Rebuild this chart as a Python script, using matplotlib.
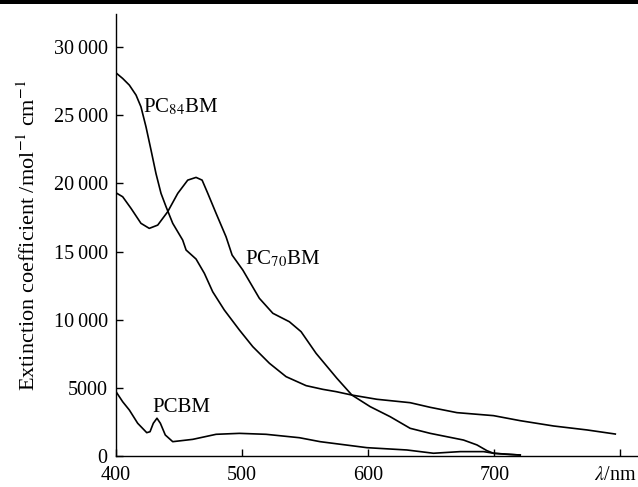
import matplotlib
matplotlib.use("Agg")
import matplotlib.pyplot as plt
from matplotlib.patches import Rectangle
from matplotlib.transforms import ScaledTranslation

plt.rcParams['font.family'] = ['Liberation Serif', 'DejaVu Serif']
plt.rcParams['mathtext.fontset'] = 'stix'

# PC84BM absorption (nm, mol^-1 cm^-1)
wl_84 = [400, 405.3, 410.6, 415.9, 419.8, 423.8, 427.8, 431.7, 435.7, 439.7, 445, 452.9,
         455.6, 463.5, 470.1, 476.7, 485.9, 497.9, 508.5, 521.7, 534.9, 550.8, 564, 574.6,
         587.1, 606.9, 633.3, 649.2, 670.4, 699.4, 720.6, 747.1, 773.6, 796]
ec_84 = [28110, 27700, 27210, 26480, 25620, 24150, 22440, 20730, 19270, 18290, 17070,
         15840, 15110, 14450, 13400, 12050, 10710, 9240, 8020, 6800, 5820, 5160, 4890,
         4720, 4470, 4160, 3910, 3570, 3180, 2960, 2590, 2200, 1910, 1610]

# PC70BM
wl_70 = [400, 405.3, 411.9, 419.8, 426.4, 433.1, 441, 449, 456.9, 463.5, 468.3, 472.8,
         479.4, 487.3, 492.1, 500.6, 513.7, 524.4, 537.5, 546.8, 558.7, 575.2, 587.1,
         601.6, 617.5, 633.3, 649.2, 675.6, 686.3, 694.2, 699.4, 710.1, 720.6]
ec_70 = [19310, 19020, 18170, 17070, 16700, 16940, 17920, 19270, 20240, 20440, 20240,
         19270, 17800, 16080, 14740, 13640, 11570, 10470, 9850, 9120, 7530, 5700, 4470,
         3620, 2880, 2030, 1660, 1170, 810, 390, 200, 120, 70]

# PCBM
wl_60 = [400, 405.3, 410.6, 417.2, 424.4, 427, 429.6, 432.5, 435.2, 439.1, 445, 460.9,
         479.4, 497.9, 519, 545.5, 561.9, 599, 630.7, 651.8, 673, 691.5, 699.4, 720.6]
ec_60 = [4720, 3980, 3370, 2400, 1710, 1780, 2400, 2770, 2400, 1540, 1050, 1220, 1590,
         1660, 1590, 1340, 1050, 610, 440, 200, 320, 320, 200, 70]

x_ticks = [400, 500, 600, 700, 800]
x_labels = ['400', '500', '600', '700', r'$\lambda$/nm']
y_ticks = [0, 5000, 10000, 15000, 20000, 25000, 30000]
y_labels = ['0', '5000', '10\u2009000', '15\u2009000', '20\u2009000', '25\u2009000', '30\u2009000']

fig = plt.figure(figsize=(6.38, 4.87), dpi=100)
ax = fig.add_axes([0.1818, 0.0637, 0.8162, 0.9073])

for wl, ec in [(wl_84, ec_84), (wl_70, ec_70), (wl_60, ec_60)]:
    ax.plot(wl, ec, color='black', lw=1.2)

ax.set_xlim(400, 813)
ax.set_ylim(0, 32420)
ax.set_xticks(x_ticks)
ax.set_xticklabels(x_labels)
ax.set_yticks(y_ticks)
ax.set_yticklabels(y_labels)
ax.tick_params(direction='in', length=5, width=1, labelsize=14.5)
ax.tick_params(axis='y', pad=6)
ax.tick_params(axis='x', pad=7.5)
for s in ['top', 'right']:
    ax.spines[s].set_visible(False)
for s in ['left', 'bottom']:
    ax.spines[s].set_linewidth(1)

# nudge the unit label left so it stays inside the figure
lab = ax.get_xticklabels()[-1]
lab.set_transform(lab.get_transform() + ScaledTranslation(-5 / 100, 0, fig.dpi_scale_trans))

ax.set_ylabel(r'Extinction coefficient /mol$^{-1}$ cm$^{-1}$', fontsize=16, labelpad=10)

ax.text(421.4, 25200, r'PC$_{84}$BM', fontsize=15)
ax.text(502.4, 14100, r'PC$_{70}$BM', fontsize=15)
ax.text(428.6, 3250, 'PCBM', fontsize=15)

fig.add_artist(Rectangle((0, 1 - 4 / 487), 1, 4 / 487, transform=fig.transFigure,
                         color='black', lw=0))

fig.savefig('out.png', dpi=100)
